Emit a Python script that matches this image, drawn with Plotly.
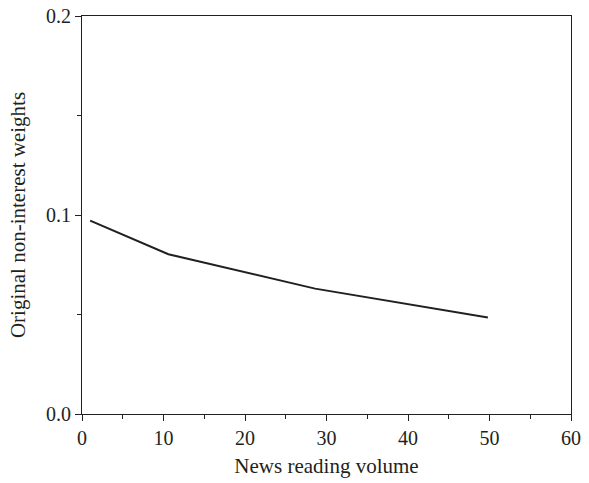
import plotly.graph_objects as go

volume = [1.0, 10.6, 28.6, 49.8]
weights = [0.0972, 0.0803, 0.0630, 0.0485]

x_ticks = [0, 10, 20, 30, 40, 50, 60]
y_ticks = [0.0, 0.1, 0.2]
y_labels = ["0.0", "0.1", "0.2"]

ink = "#231f20"
font = dict(family="Liberation Serif, Times New Roman, serif", size=20, color=ink)
title_font = dict(family="Liberation Serif, Times New Roman, serif", size=21, color=ink)

fig = go.Figure()
fig.add_trace(go.Scatter(x=volume, y=weights, mode="lines",
                         line=dict(color=ink, width=2), showlegend=False))

fig.update_layout(
    width=589, height=483,
    margin=dict(l=82, r=18, t=16, b=69),
    paper_bgcolor="white", plot_bgcolor="white",
    font=font,
)
fig.update_xaxes(
    range=[0, 60], tickvals=x_ticks, ticks="outside", ticklen=6, tickwidth=1.2,
    tickcolor=ink, showline=True, linecolor=ink, linewidth=1.2, mirror=True,
    showgrid=False, zeroline=False, automargin=False,
    minor=dict(dtick=5, ticks="outside", ticklen=4, tickcolor=ink, tickwidth=1.2, showgrid=False),
    title=dict(text="News reading volume", font=title_font, standoff=10),
    tickfont=font,
)
fig.update_yaxes(
    range=[0, 0.2], tickvals=y_ticks, ticktext=y_labels, ticks="outside", ticklen=6,
    tickwidth=1.2, tickcolor=ink, showline=True, linecolor=ink, linewidth=1.2, mirror=True,
    showgrid=False, zeroline=False, automargin=False,
    minor=dict(dtick=0.05, ticks="outside", ticklen=4, tickcolor=ink, tickwidth=1.2, showgrid=False),
    title=dict(text="Original non-interest weights", font=title_font, standoff=14),
    tickfont=font,
)

fig.write_html("out.html", config={"displayModeBar": False},
               post_script="document.body.style.margin='0';")
